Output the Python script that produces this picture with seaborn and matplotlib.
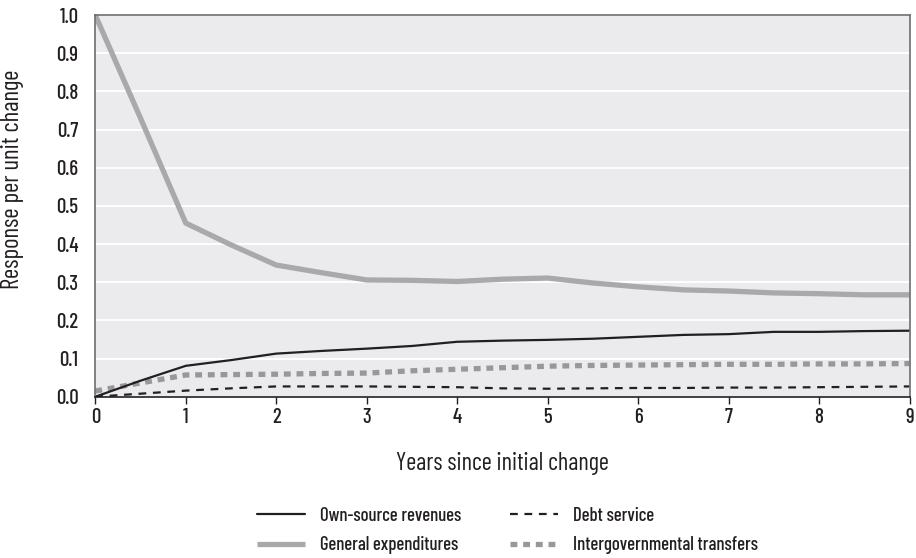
import numpy as np
import pandas as pd
import matplotlib.pyplot as plt
import seaborn as sns

# data
years = [0, 0.5, 1, 1.5, 2, 2.5, 3, 3.5, 4, 4.5, 5, 5.5, 6, 6.5, 7, 7.5, 8, 8.5, 9]
own_source = [0.0, 0.042, 0.081, 0.096, 0.113, 0.120, 0.126, 0.133, 0.144, 0.147, 0.149,
              0.152, 0.157, 0.162, 0.164, 0.170, 0.170, 0.172, 0.173]
general_exp = [1.0, 0.73, 0.455, 0.398, 0.345, 0.325, 0.306, 0.305, 0.302, 0.308, 0.311,
               0.298, 0.288, 0.280, 0.277, 0.272, 0.270, 0.267, 0.267]
debt_service = [0.0, 0.008, 0.016, 0.022, 0.027, 0.027, 0.027, 0.026, 0.025, 0.022, 0.021,
                0.022, 0.023, 0.023, 0.024, 0.024, 0.025, 0.026, 0.027]
transfers = [0.015, 0.036, 0.057, 0.058, 0.059, 0.061, 0.062, 0.068, 0.072, 0.076, 0.080,
             0.082, 0.083, 0.084, 0.085, 0.085, 0.086, 0.086, 0.087]

x_ticks = list(range(10))
y_ticks = [0.0, 0.1, 0.2, 0.3, 0.4, 0.5, 0.6, 0.7, 0.8, 0.9, 1.0]

df = pd.DataFrame({'year': years, 'own': own_source, 'gen': general_exp,
                   'debt': debt_service, 'trans': transfers})

sns.set_theme(style='darkgrid')
plt.rcParams['font.family'] = ['Barlow Condensed', 'Roboto Condensed', 'DejaVu Sans']
plt.rcParams['font.weight'] = 500

fig, ax = plt.subplots(figsize=(9.16, 5.58), dpi=100)
fig.subplots_adjust(left=0.104, right=0.993, top=0.973, bottom=0.289)
ax.set_facecolor('#ebebed')
ax.grid(axis='y', color='white', linewidth=1.3)
ax.grid(axis='x', visible=False)

sns.lineplot(data=df, x='year', y='gen', ax=ax, color='#a8a9ab', linewidth=3.8,
             label='General expenditures', solid_capstyle='butt')
sns.lineplot(data=df, x='year', y='trans', ax=ax, color='#98989a', linewidth=3.8,
             label='Intergovernmental transfers')
ax.lines[-1].set_dashes([1.3, 1.1])
ax.lines[-1].set_dash_capstyle('butt')
sns.lineplot(data=df, x='year', y='own', ax=ax, color='#231f20', linewidth=1.6,
             label='Own-source revenues')
sns.lineplot(data=df, x='year', y='debt', ax=ax, color='#231f20', linewidth=1.6,
             label='Debt service')
ax.lines[-1].set_dashes([3.5, 3])

ax.set_xlim(0, 9)
ax.set_ylim(0, 1.0)
ax.set_xticks(x_ticks)
ax.set_xticklabels([str(t) for t in x_ticks])
ax.set_yticks(y_ticks)
ax.set_yticklabels([f'{t:.1f}' for t in y_ticks])
ax.tick_params(axis='x', bottom=True, length=5, width=1, color='#231f20',
               labelsize=15, pad=3, labelcolor='#231f20')
ax.tick_params(axis='y', left=False, labelsize=15, pad=6, labelcolor='#231f20')

for side in ['left', 'top', 'right']:
    ax.spines[side].set_visible(True)
    ax.spines[side].set_color('#6d6e71')
    ax.spines[side].set_linewidth(1.2)
ax.spines['bottom'].set_visible(True)
ax.spines['bottom'].set_color('#231f20')
ax.spines['bottom'].set_linewidth(1.2)

ax.set_xlabel('Years since initial change', fontsize=17.5, color='#231f20', labelpad=18)
ax.set_ylabel('Response per unit change', fontsize=18, color='#231f20')
ax.yaxis.set_label_coords(-0.088, 0.57)

handles, labels = ax.get_legend_handles_labels()
order = ['Own-source revenues', 'General expenditures', 'Debt service', 'Intergovernmental transfers']
hmap = dict(zip(labels, handles))
ax.get_legend().remove()
fig.legend([hmap[k] for k in order], order, loc='upper center', ncol=2,
           bbox_to_anchor=(0.554, 0.122), frameon=False, fontsize=13.5,
           handlelength=2.56, columnspacing=2.6, handletextpad=0.8, labelspacing=0.62,
           labelcolor='#231f20')

fig.savefig('out.png', dpi=100)
